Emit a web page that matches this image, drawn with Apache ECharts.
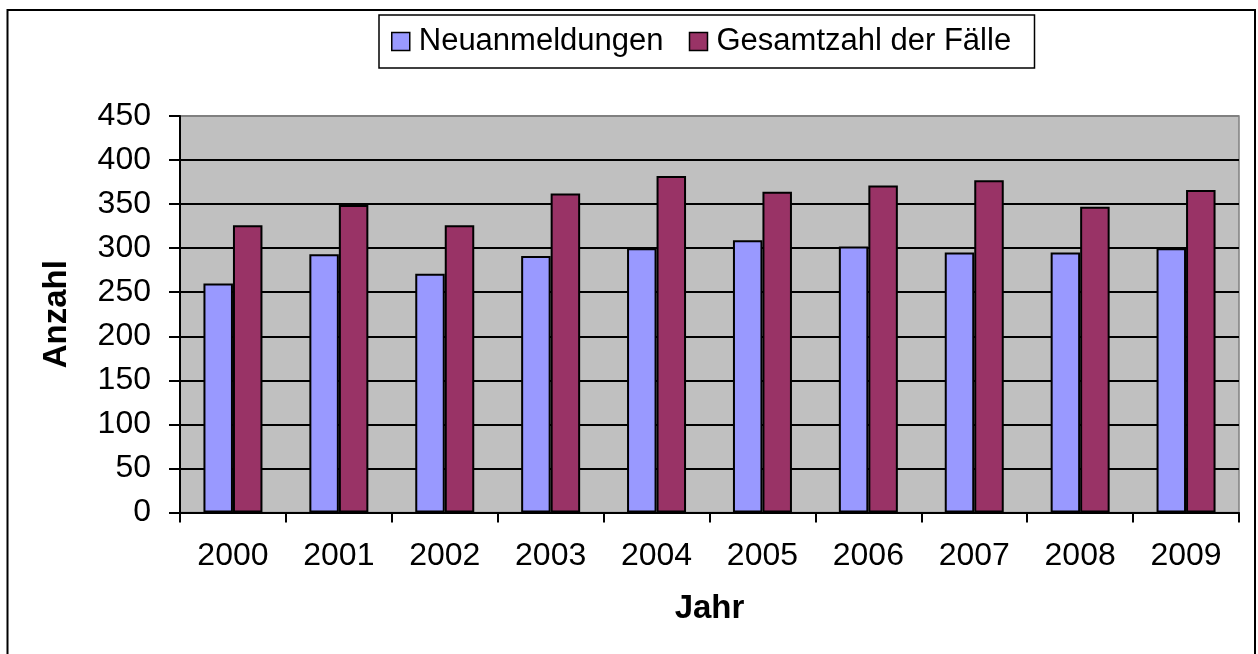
<!DOCTYPE html>
<html>
<head>
<meta charset="utf-8">
<script src="https://cdn.jsdelivr.net/npm/echarts@6/dist/echarts.min.js"></script>
<style>
html,body{margin:0;padding:0;background:#fff;}
#chart{width:1258px;height:654px;}
</style>
</head>
<body>
<div id="chart"></div>
<script>
const years = ['2000','2001','2002','2003','2004','2005','2006','2007','2008','2009'];
const neuanmeldungen = [260, 293, 271, 291, 300, 309, 302, 295, 295, 300];
const gesamtzahl = [326, 349, 326, 362, 382, 364, 371, 377, 347, 366];
const seriesNames = ['Neuanmeldungen', 'Gesamtzahl der Fälle'];
const yTicks = { min: 0, max: 450, interval: 50 };

const FONT = '"Liberation Sans", Arial, sans-serif';
const chart = echarts.init(document.getElementById('chart'), null, {renderer: 'canvas'});

const splitColors = [];
for (let v = yTicks.min; v <= yTicks.max; v += yTicks.interval) {
  splitColors.push(v === yTicks.max ? '#808080' : '#000000');
}

chart.setOption({
  animation: false,
  backgroundColor: '#ffffff',
  textStyle: { fontFamily: FONT },
  graphic: [{
    type: 'rect',
    shape: { x: 7.5, y: 10, width: 1247.5, height: 670 },
    style: { fill: 'none', stroke: '#000', lineWidth: 2 },
    silent: true
  }],
  legend: {
    left: 379,
    top: 15,
    padding: [11, 18, 11, 12],
    itemGap: 19,
    itemWidth: 18,
    itemHeight: 18,
    icon: 'rect',
    borderColor: '#000',
    borderWidth: 1.5,
    backgroundColor: '#fff',
    itemStyle: { borderColor: '#000', borderWidth: 1.5 },
    textStyle: { fontFamily: FONT, fontSize: 31, color: '#000', lineHeight: 30, padding: [0, 0, 0, 4] },
    data: [
      { name: seriesNames[0], textStyle: { width: 251 } },
      { name: seriesNames[1], textStyle: { width: 300 } }
    ]
  },
  grid: {
    left: 180, right: 19, top: 116, bottom: 141.5,
    show: true,
    backgroundColor: '#C0C0C0',
    borderColor: '#808080',
    borderWidth: 1.5
  },
  xAxis: {
    type: 'category',
    data: years,
    name: 'Jahr',
    nameLocation: 'middle',
    nameGap: 80,
    nameTextStyle: { fontFamily: FONT, fontSize: 33, fontWeight: 'bold', color: '#000' },
    axisLine: { show: true, lineStyle: { color: '#000', width: 2 } },
    axisTick: { show: true, length: 10, lineStyle: { color: '#000', width: 2 } },
    axisLabel: { fontFamily: FONT, fontSize: 32, color: '#000', margin: 28 },
    splitLine: { show: false }
  },
  yAxis: {
    type: 'value',
    min: yTicks.min, max: yTicks.max, interval: yTicks.interval,
    name: 'Anzahl',
    nameLocation: 'middle',
    nameRotate: 90,
    nameGap: 107,
    nameTextStyle: { fontFamily: FONT, fontSize: 33, fontWeight: 'bold', color: '#000' },
    axisLine: { show: true, lineStyle: { color: '#000', width: 2 } },
    axisTick: { show: true, length: 11, lineStyle: { color: '#000', width: 2 } },
    axisLabel: { fontFamily: FONT, fontSize: 32, color: '#000', margin: 29 },
    splitLine: { show: true, lineStyle: { color: splitColors, width: 2 } }
  },
  series: [
    {
      name: seriesNames[0], type: 'bar', data: neuanmeldungen,
      barWidth: 29.5, barGap: '0%',
      itemStyle: { color: '#9999FF', borderColor: '#000', borderWidth: 2 }
    },
    {
      name: seriesNames[1], type: 'bar', data: gesamtzahl,
      barWidth: 29.5, barGap: '0%',
      itemStyle: { color: '#993366', borderColor: '#000', borderWidth: 2 }
    }
  ]
});
</script>
</body>
</html>
